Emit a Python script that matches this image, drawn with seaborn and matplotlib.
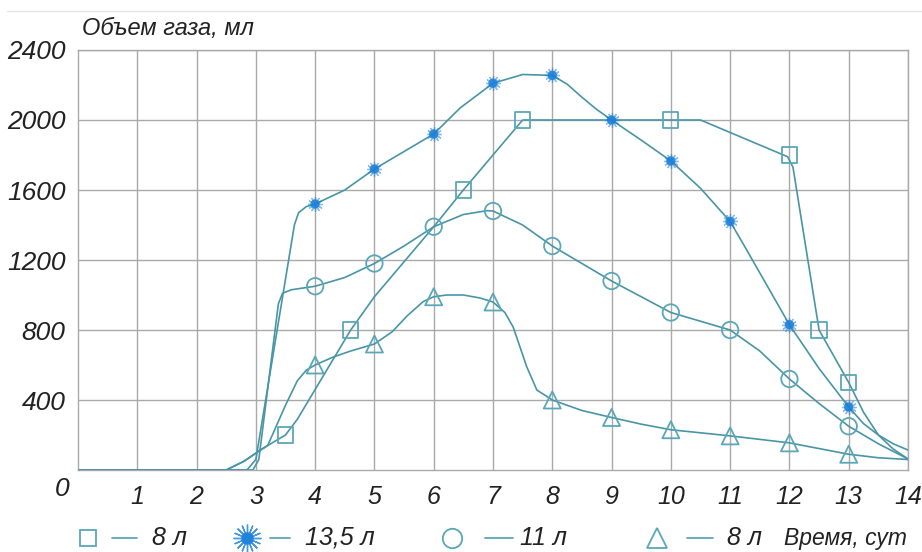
import matplotlib.pyplot as plt
import seaborn as sns
from matplotlib.lines import Line2D

sns.set_style('white')
plt.rcParams['font.family'] = ['Liberation Sans', 'DejaVu Sans']
plt.rcParams['font.style'] = 'italic'

# --- данные (сутки / мл) ---
days = list(range(1, 15))
vol_ticks = [400, 800, 1200, 1600, 2000, 2400]

# 8 л (квадраты)
sq_line_x = [0, 2.5, 2.8, 3.07, 3.5, 3.7, 4.6, 5.0, 6.0, 6.5, 7.5, 10.5, 11.97, 12.06, 12.5, 13.0, 13.25, 13.5, 13.75, 14.0]
sq_line_y = [0, 0, 50, 114, 200, 290, 800, 990, 1390, 1600, 2000, 2000, 1790, 1730, 800, 500, 330, 200, 120, 63]
sq_pts_x = [3.5, 4.6, 6.5, 7.5, 10.0, 12.0, 12.5, 13.0]
sq_pts_y = [200, 800, 1600, 2000, 2000, 1800, 800, 500]

# 13,5 л (звездочки)
st_line_x = [0, 2.85, 3.0, 3.65, 3.72, 3.85, 4.0, 4.5, 5.0, 5.5, 6.0, 6.45, 7.0, 7.5, 8.0, 8.25, 8.5, 8.75, 9.0,
             9.5, 10.0, 10.5, 11.0, 11.28, 12.0, 12.5, 13.0, 13.25, 13.5, 13.75, 14.0]
st_line_y = [0, 0, 60, 1400, 1470, 1505, 1520, 1600, 1720, 1820, 1920, 2070, 2210, 2260, 2255, 2205, 2130, 2060, 2000,
             1885, 1766, 1610, 1420, 1257, 830, 580, 360, 265, 200, 150, 114]
st_pts_x = [4, 5, 6, 7, 8, 9, 10, 11, 12, 13]
st_pts_y = [1520, 1720, 1920, 2210, 2255, 2000, 1766, 1420, 830, 360]

# 11 л (кружки)
ci_line_x = [0, 2.95, 3.05, 3.38, 3.45, 3.6, 4.0, 4.5, 5.0, 5.5, 6.0, 6.5, 6.9, 7.0, 7.5, 8.0, 8.5, 9.0, 9.5,
             10.0, 10.5, 11.0, 11.5, 12.0, 12.5, 13.0, 13.5, 14.0]
ci_line_y = [0, 0, 60, 950, 1010, 1030, 1050, 1100, 1180, 1280, 1390, 1460, 1482, 1480, 1400, 1280, 1180, 1080, 990,
             900, 850, 800, 680, 520, 380, 250, 150, 63]
ci_pts_x = [4, 5, 6, 7, 8, 9, 10, 11, 12, 13]
ci_pts_y = [1050, 1180, 1390, 1480, 1280, 1080, 900, 800, 520, 250]

# 8 л (треугольники)
tr_line_x = [0, 2.5, 2.8, 3.2, 3.5, 3.7, 3.85, 4.0, 4.3, 4.6, 5.0, 5.3, 5.55, 5.82, 6.0, 6.22, 6.5, 6.78, 7.0,
             7.2, 7.34, 7.57, 7.74, 8.0, 8.5, 9.0, 9.5, 10.0, 11.0, 12.0, 13.0, 13.5, 14.0]
tr_line_y = [0, 0, 50, 140, 370, 510, 570, 600, 645, 680, 720, 790, 880, 962, 990, 1000, 1000, 983, 960,
             900, 817, 589, 457, 400, 340, 300, 262, 230, 195, 155, 90, 70, 60]
tr_pts_x = [4, 5, 6, 7, 8, 9, 10, 11, 12, 13]
tr_pts_y = [600, 720, 990, 960, 400, 300, 230, 195, 155, 90]

teal = '#4895a8'
mark_c = '#5aa7b8'
star_c = '#1b7fd8'
grid_c = '#a9a9a9'
txt_c = '#222222'

fig = plt.figure(figsize=(9.22, 5.52), dpi=100)
ax = fig.add_axes([78 / 922, 1 - 470 / 552, 830 / 922, 420 / 552])

for lx, ly in [(sq_line_x, sq_line_y), (st_line_x, st_line_y), (ci_line_x, ci_line_y), (tr_line_x, tr_line_y)]:
    sns.lineplot(x=lx, y=ly, ax=ax, sort=False, estimator=None, color=teal, lw=1.2, zorder=3)

sns.scatterplot(x=sq_pts_x, y=sq_pts_y, ax=ax, marker='s', s=120, fc='none', ec=mark_c, linewidth=1.3, zorder=4)
sns.scatterplot(x=ci_pts_x, y=ci_pts_y, ax=ax, marker='o', s=140, fc='none', ec=mark_c, linewidth=1.3, zorder=4)
sns.scatterplot(x=tr_pts_x, y=tr_pts_y, ax=ax, marker='^', s=150, fc='none', ec=mark_c, linewidth=1.3, zorder=4)
sns.scatterplot(x=st_pts_x, y=st_pts_y, ax=ax, marker='o', s=45, color=star_c, ec='none', alpha=0.85, zorder=4)
sns.scatterplot(x=st_pts_x, y=st_pts_y, ax=ax, marker=(12, 2, 0), s=100, color=star_c, linewidth=1.0, alpha=0.5, zorder=4)

ax.set_xlim(0, 14)
ax.set_ylim(0, 2400)
ax.set_xticks(days)
ax.set_xticklabels([str(d) for d in days])
ax.set_yticks(vol_ticks)
ax.set_yticklabels([str(v) for v in vol_ticks])
ax.tick_params(length=0, labelsize=18, colors=txt_c, pad=11)
ax.tick_params(axis='y', labelsize=19, pad=9)
ax.grid(True, color=grid_c, lw=1)
ax.set_axisbelow(True)
for sp in ax.spines.values():
    sp.set_color(grid_c)
    sp.set_linewidth(1)
ax.set_xlabel('')
ax.set_ylabel('')

# подписи
fig.text(62 / 922, 1 - 489 / 552, '0', fontsize=19, color=txt_c, ha='center', va='center')
fig.text(82 / 922, 1 - 29 / 552, 'Объем газа, мл', fontsize=17, color=txt_c, ha='left', va='center')
fig.add_artist(Line2D([7 / 922, 1], [1 - 11 / 552] * 2, color='#e4e4e4', lw=1))

# легенда внизу
ly = 1 - 538 / 552
fig.add_artist(Line2D([88 / 922], [ly], marker='s', ms=12, mfc='none', mec=mark_c, mew=1.3))
fig.add_artist(Line2D([247 / 922], [ly], marker='o', ms=9, mfc=star_c, mec='none', alpha=0.85))
fig.add_artist(Line2D([247 / 922], [ly], marker=(16, 2, 0), ms=20, mec=star_c, mew=1.0, alpha=0.8))
fig.add_artist(Line2D([452 / 922], [ly], marker='o', ms=14, mfc='none', mec=mark_c, mew=1.3))
fig.add_artist(Line2D([657 / 922], [ly], marker='^', ms=15, mfc='none', mec=mark_c, mew=1.3))
for x0, x1 in [(112, 137), (270, 290), (485, 513), (687, 713)]:
    fig.add_artist(Line2D([x0 / 922, x1 / 922], [ly, ly], color=mark_c, lw=1.3))
for xt, s in [(152, '8 л'), (305, '13,5 л'), (520, '11 л'), (727, '8 л')]:
    fig.text(xt / 922, ly, s, fontsize=18, color=txt_c, ha='left', va='center')
fig.text(784 / 922, ly, 'Время, сут', fontsize=16.5, color=txt_c, ha='left', va='center')

fig.savefig('out.png', dpi=100, facecolor='white')
